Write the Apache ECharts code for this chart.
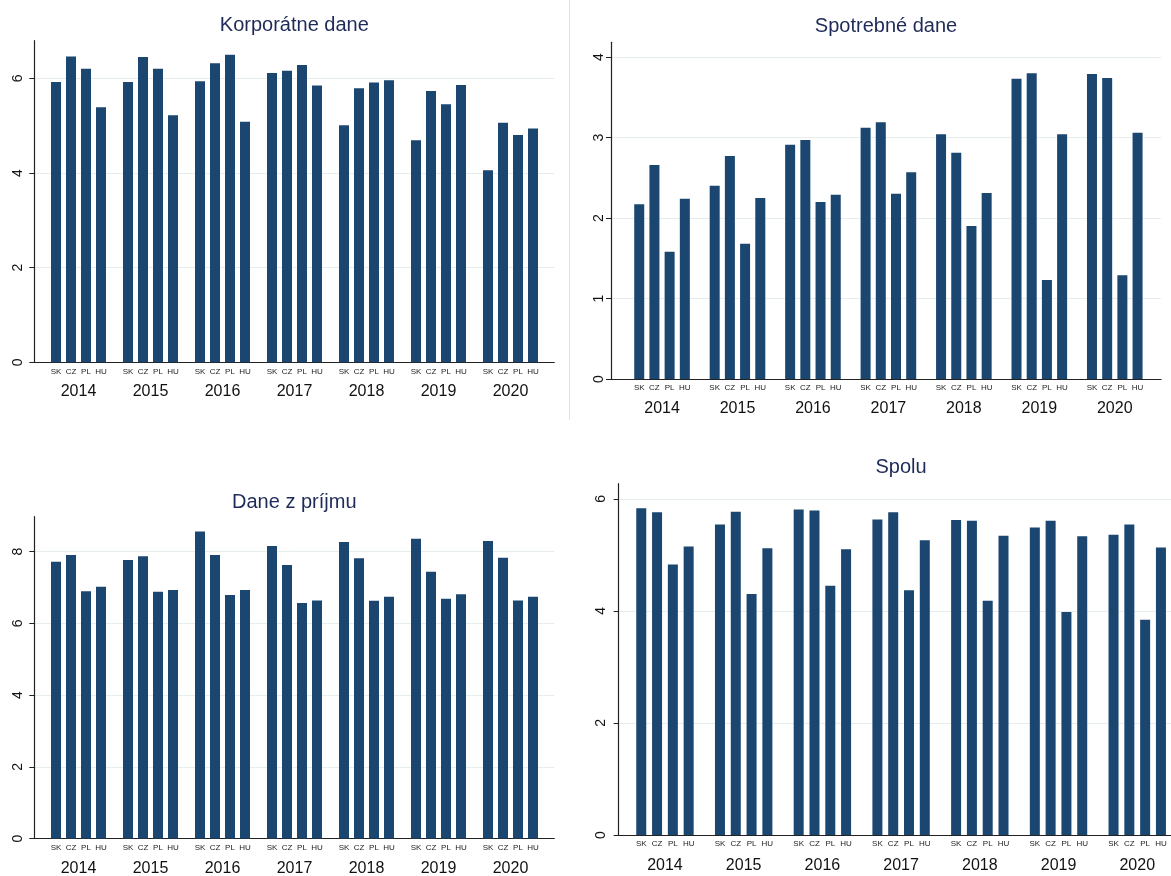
<!DOCTYPE html>
<html>
<head>
<meta charset="utf-8">
<title>Dane – SK, CZ, PL, HU</title>
<script src="https://cdn.jsdelivr.net/npm/echarts@6/dist/echarts.min.js"></script>
<style>
  html, body { margin: 0; padding: 0; background: #ffffff; }
  #chart { width: 1171px; height: 876px; }
</style>
</head>
<body>
<div id="chart"></div>
<script>
// Categories
const years = ['2014', '2015', '2016', '2017', '2018', '2019', '2020'];
const countries = ['SK', 'CZ', 'PL', 'HU'];

// Korporátne dane
const corpSK = [5.92, 5.92, 5.94, 6.11, 5.01, 4.69, 4.06];
const corpCZ = [6.46, 6.45, 6.32, 6.16, 5.79, 5.73, 5.06];
const corpPL = [6.20, 6.20, 6.50, 6.28, 5.91, 5.45, 4.80];
const corpHU = [5.39, 5.22, 5.08, 5.85, 5.96, 5.86, 4.94];

// Spotrebné dane
const exciseSK = [2.17, 2.40, 2.91, 3.12, 3.04, 3.73, 3.79];
const exciseCZ = [2.66, 2.77, 2.97, 3.19, 2.81, 3.80, 3.74];
const excisePL = [1.58, 1.68, 2.20, 2.30, 1.90, 1.23, 1.29];
const exciseHU = [2.24, 2.25, 2.29, 2.57, 2.31, 3.04, 3.06];

// Dane z príjmu
const incomeSK = [7.72, 7.77, 8.56, 8.16, 8.27, 8.36, 8.30];
const incomeCZ = [7.91, 7.87, 7.91, 7.63, 7.82, 7.44, 7.83];
const incomePL = [6.90, 6.88, 6.79, 6.57, 6.63, 6.69, 6.64];
const incomeHU = [7.02, 6.93, 6.93, 6.64, 6.74, 6.81, 6.74];

// Spolu
const totalSK = [5.83, 5.54, 5.81, 5.63, 5.62, 5.49, 5.36];
const totalCZ = [5.76, 5.77, 5.79, 5.76, 5.61, 5.61, 5.54];
const totalPL = [4.83, 4.30, 4.45, 4.37, 4.18, 3.98, 3.84];
const totalHU = [5.15, 5.12, 5.10, 5.26, 5.34, 5.33, 5.13];

// Y tick labels per panel
const ticksCorp = [0, 2, 4, 6];
const ticksExcise = [0, 1, 2, 3, 4];
const ticksIncome = [0, 2, 4, 6, 8];
const ticksTotal = [0, 2, 4, 6];

const BAR_COLOR = '#1b4670';
const TITLE_COLOR = '#1e2b58';
const AXIS_COLOR = '#222222';
const GRID_COLOR = '#e5eded';
const FONT = '"Liberation Sans", Arial, Helvetica, sans-serif';

const panels = [
  {
    title: 'Korporátne dane', titleTop: 15,
    frame: { left: 34.3, top: 40.7, width: 520, height: 321.6 },
    bars: { left: 42.5, width: 504 }, barGap: '50%',
    max: 6.795, interval: 2, ticks: ticksCorp, labelMargin: 9, yearMargin: 21,
    values: [corpSK, corpCZ, corpPL, corpHU]
  },
  {
    title: 'Spotrebné dane', titleTop: 16,
    frame: { left: 611, top: 42.3, width: 550, height: 336.7 },
    bars: { left: 624.3, width: 528.2 }, barGap: '52%',
    max: 4.183, interval: 1, ticks: ticksExcise, labelMargin: 5, yearMargin: 22,
    values: [exciseSK, exciseCZ, excisePL, exciseHU]
  },
  {
    title: 'Dane z príjmu', titleTop: 492,
    frame: { left: 34.3, top: 516.7, width: 520, height: 321.8 },
    bars: { left: 42.5, width: 504 }, barGap: '50%',
    max: 8.976, interval: 2, ticks: ticksIncome, labelMargin: 9, yearMargin: 22,
    values: [incomeSK, incomeCZ, incomePL, incomeHU]
  },
  {
    title: 'Spolu', titleTop: 457,
    frame: { left: 618.7, top: 483.7, width: 564.6, height: 351.3 },
    bars: { left: 625.6, width: 551 }, barGap: '58%',
    max: 6.27, interval: 2, ticks: ticksTotal, labelMargin: 11, yearMargin: 23,
    values: [totalSK, totalCZ, totalPL, totalHU]
  }
];

const option = {
  backgroundColor: '#ffffff',
  animation: false,
  textStyle: { fontFamily: FONT },
  title: [],
  grid: [],
  xAxis: [],
  yAxis: [],
  series: [],
  graphic: [{
    type: 'line',
    silent: true,
    shape: { x1: 569.5, y1: 0, x2: 569.5, y2: 420 },
    style: { stroke: '#e2e2e2', lineWidth: 1 }
  }]
};

panels.forEach(function (p, i) {
  const frameIdx = i * 2;
  const barIdx = i * 2 + 1;
  const f = p.frame;

  option.title.push({
    text: p.title,
    left: f.left + f.width / 2,
    top: p.titleTop,
    textAlign: 'center',
    padding: 0,
    textStyle: { fontFamily: FONT, fontSize: 20, fontWeight: 'normal', color: TITLE_COLOR }
  });

  // Frame grid: axis lines, y ticks, labels and grid lines across the full width
  option.grid.push({
    left: f.left, top: f.top, width: f.width, height: f.height,
    containLabel: false, outerBoundsMode: 'none'
  });
  // Bar grid: same vertical scale, slightly narrower band for the year groups
  option.grid.push({
    left: p.bars.left, top: f.top, width: p.bars.width, height: f.height,
    containLabel: false, outerBoundsMode: 'none'
  });

  option.xAxis.push({
    type: 'category', gridIndex: frameIdx, data: [''],
    axisLine: { show: true, lineStyle: { color: AXIS_COLOR, width: 1.2 } },
    axisTick: { show: false }, axisLabel: { show: false }, splitLine: { show: false }
  });
  option.xAxis.push({
    type: 'category', gridIndex: barIdx, data: years,
    axisLine: { show: false }, axisTick: { show: false }, splitLine: { show: false },
    axisLabel: { show: true, margin: p.yearMargin, fontSize: 16, color: '#111111', fontFamily: FONT }
  });

  option.yAxis.push({
    type: 'value', gridIndex: frameIdx, min: 0, max: p.max, interval: p.interval,
    axisLine: { show: true, lineStyle: { color: AXIS_COLOR, width: 1.2 } },
    axisTick: { show: true, length: 5, customValues: p.ticks, lineStyle: { color: AXIS_COLOR } },
    axisLabel: {
      show: true, rotate: 90, margin: p.labelMargin, fontSize: 14, color: '#111111',
      fontFamily: FONT, customValues: p.ticks
    },
    splitLine: { show: true, showMinLine: false, lineStyle: { color: GRID_COLOR, width: 1 } }
  });
  option.yAxis.push({
    type: 'value', gridIndex: barIdx, min: 0, max: p.max, interval: p.interval, show: false
  });

  countries.forEach(function (c, k) {
    option.series.push({
      name: c,
      type: 'bar',
      xAxisIndex: barIdx,
      yAxisIndex: barIdx,
      data: p.values[k],
      barWidth: 10,
      barGap: p.barGap,
      silent: true,
      itemStyle: { color: BAR_COLOR },
      label: {
        show: true, position: 'bottom', distance: 5, formatter: '{a}',
        fontSize: 8, color: '#222222', fontFamily: FONT
      }
    });
  });
});

const chart = echarts.init(document.getElementById('chart'), null, { renderer: 'canvas' });
chart.setOption(option);
</script>
</body>
</html>
